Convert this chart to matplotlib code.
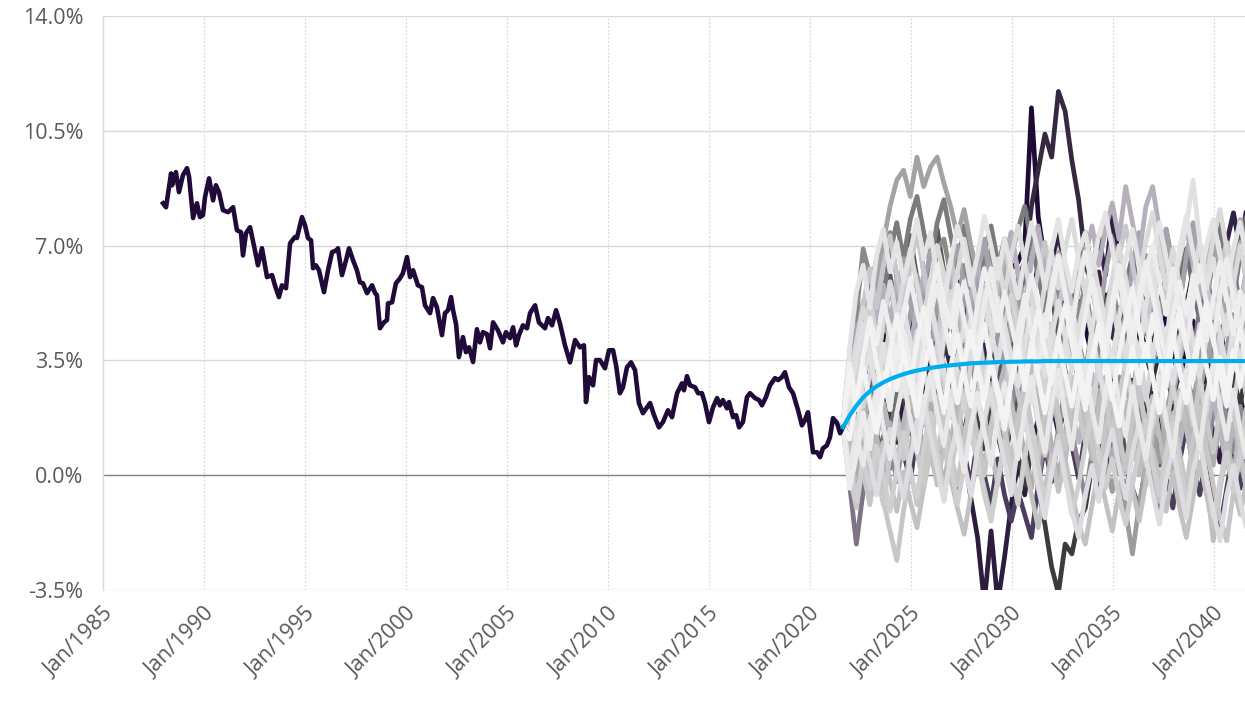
import numpy as np
import matplotlib
matplotlib.use("Agg")
import matplotlib.pyplot as plt
from matplotlib.colors import to_rgb

# ---- historical yield (decimal year, %) ----
hist_years = [
    1987.97, 1988.12, 1988.37, 1988.42, 1988.61, 1988.76, 1988.96, 1989.16, 1989.26, 1989.46,
    1989.65, 1989.80, 1989.95, 1990.05, 1990.25, 1990.45, 1990.59, 1990.74, 1990.94, 1991.19,
    1991.44, 1991.63, 1991.83, 1991.93, 1992.08, 1992.28, 1992.52, 1992.67, 1992.87, 1993.12,
    1993.37, 1993.51, 1993.71, 1993.86, 1994.06, 1994.26, 1994.50, 1994.60, 1994.85, 1995.00,
    1995.15, 1995.30, 1995.40, 1995.54, 1995.69, 1995.94, 1996.14, 1996.34, 1996.58, 1996.63,
    1996.83, 1997.03, 1997.18, 1997.38, 1997.57, 1997.72, 1997.87, 1998.07, 1998.32, 1998.47,
    1998.56, 1998.71, 1998.91, 1999.06, 1999.11, 1999.31, 1999.50, 1999.70, 1999.85, 2000.05,
    2000.20, 2000.35, 2000.59, 2000.79, 2000.94, 2001.19, 2001.34, 2001.53, 2001.78, 2001.93,
    2002.08, 2002.23, 2002.33, 2002.48, 2002.62, 2002.82, 2002.97, 2003.12, 2003.32, 2003.51,
    2003.66, 2003.81, 2004.01, 2004.16, 2004.31, 2004.55, 2004.80, 2004.95, 2005.15, 2005.30,
    2005.45, 2005.59, 2005.79, 2005.99, 2006.14, 2006.39, 2006.58, 2006.88, 2007.03, 2007.23,
    2007.43, 2007.62, 2007.87, 2008.12, 2008.37, 2008.61, 2008.81, 2008.91, 2009.06, 2009.26,
    2009.41, 2009.60, 2009.85, 2010.05, 2010.25, 2010.40, 2010.59, 2010.74, 2010.94, 2011.14,
    2011.34, 2011.53, 2011.73, 2011.93, 2012.08, 2012.28, 2012.52, 2012.72, 2012.97, 2013.17,
    2013.42, 2013.66, 2013.76, 2013.91, 2014.06, 2014.31, 2014.46, 2014.65, 2014.80, 2015.00,
    2015.20, 2015.40, 2015.54, 2015.69, 2015.89, 2015.99, 2016.19, 2016.34, 2016.49, 2016.68,
    2016.88, 2017.03, 2017.28, 2017.48, 2017.62, 2017.82, 2018.02, 2018.27, 2018.42, 2018.61,
    2018.76, 2018.96, 2019.16, 2019.41, 2019.60, 2019.75, 2019.90, 2020.15, 2020.35, 2020.50,
    2020.64, 2020.84, 2020.99, 2021.14, 2021.34, 2021.49, 2021.63,
]
hist_values = [
    8.29, 8.17, 9.20, 8.84, 9.24, 8.63, 9.15, 9.36, 9.10, 7.84,
    8.29, 7.87, 7.93, 8.48, 9.05, 8.38, 8.84, 8.63, 8.08, 8.02,
    8.17, 7.47, 7.41, 6.70, 7.38, 7.56, 6.86, 6.40, 6.92, 6.04,
    6.10, 5.79, 5.43, 5.79, 5.70, 7.07, 7.26, 7.23, 7.87, 7.62,
    7.23, 7.16, 6.31, 6.40, 6.25, 5.58, 6.25, 6.80, 6.86, 6.92,
    6.10, 6.55, 6.92, 6.55, 6.25, 5.88, 5.85, 5.55, 5.79, 5.55,
    5.49, 4.48, 4.66, 4.73, 5.24, 5.27, 5.85, 6.00, 6.16, 6.65,
    6.04, 6.25, 5.79, 5.73, 5.18, 4.94, 5.40, 5.12, 4.27, 4.94,
    5.03, 5.43, 5.03, 4.60, 3.60, 4.21, 3.75, 3.90, 3.45, 4.45,
    4.05, 4.36, 4.30, 3.87, 4.66, 4.42, 4.05, 4.36, 4.18, 4.51,
    3.96, 4.27, 4.57, 4.48, 4.94, 5.18, 4.66, 4.48, 4.79, 4.57,
    5.03, 4.63, 3.96, 3.44, 4.12, 3.90, 3.96, 2.23, 2.99, 2.74,
    3.51, 3.51, 3.26, 3.81, 3.81, 3.35, 2.50, 2.68, 3.29, 3.44,
    3.20, 2.20, 1.89, 2.07, 2.20, 1.83, 1.46, 1.62, 1.98, 1.77,
    2.50, 2.80, 2.59, 3.02, 2.74, 2.68, 2.50, 2.50, 2.20, 1.62,
    2.07, 2.35, 2.13, 2.29, 2.04, 2.23, 1.77, 1.83, 1.46, 1.62,
    2.38, 2.50, 2.35, 2.29, 2.13, 2.38, 2.74, 2.96, 2.90, 2.99,
    3.14, 2.68, 2.50, 1.98, 1.52, 1.68, 1.92, 0.70, 0.70, 0.55,
    0.82, 0.91, 1.16, 1.74, 1.59, 1.28, 1.46,
]

# ---- projection: 61 points, one every four months from mid-2021 ----
sim_start = 2021.63
sim_years = sim_start + np.arange(61) / 3.0

expected_path = [
    1.46, 1.82, 2.12, 2.37, 2.56, 2.71, 2.83, 2.93, 3.01, 3.08,
    3.14, 3.19, 3.23, 3.27, 3.30, 3.33, 3.35, 3.37, 3.39, 3.41,
    3.42, 3.43, 3.44, 3.45, 3.45, 3.46, 3.46, 3.47, 3.47, 3.47,
    3.48, 3.48, 3.48, 3.48, 3.48, 3.48, 3.48, 3.48, 3.48, 3.48,
    3.48, 3.48, 3.48, 3.48, 3.48, 3.48, 3.48, 3.48, 3.48, 3.48,
    3.48, 3.48, 3.48, 3.48, 3.48, 3.48, 3.48, 3.48, 3.48, 3.48, 3.48,
]

# simulated scenarios (%)
scenarios = [
    [1.5, 2.6, 3.7, 2.9, 4.3, 3.4, 4.6, 5.8, 4.7, 3.6, 4.9, 6.1, 4.8, 3.9, 5.2, 6.2, 5.1, 4.0, 5.4, 6.3,
     5.0, 4.1, 5.5, 4.2, 3.3, 4.7, 5.6, 4.3, 3.5, 4.8, 3.6, 2.4, 3.8, 2.7, 1.6, 2.9, 1.8, 0.7, 1.9, 0.4,
     -0.5, 0.6, -1.1, -2.4, -0.9, 0.3, 1.5, 0.4, 1.9, 2.8, 1.8, 3.2, 2.1, 3.5, 4.4, 3.3, 2.7, 3.9, 4.9, 3.6, 4.8],
    [1.5, 3.3, 4.9, 6.9, 6.1, 5.3, 6.6, 7.4, 6.0, 5.5, 6.8, 7.6, 6.2, 5.4, 6.9, 7.2, 6.1, 5.2, 6.4, 5.7,
     4.8, 6.1, 6.9, 5.6, 5.0, 4.1, 5.5, 6.4, 5.1, 4.3, 5.8, 6.5, 5.2, 4.4, 3.6, 4.9, 5.8, 4.4, 3.7, 5.1,
     5.9, 4.6, 3.8, 5.2, 5.8, 6.7, 5.4, 4.7, 6.0, 6.8, 5.5, 4.8, 6.1, 6.9, 5.7, 4.9, 6.3, 7.1, 5.8, 5.0, 6.4],
    [1.5, 0.7, 1.6, 0.9, 2.2, 1.3, 0.5, 1.9, 1.0, 2.4, 1.4, 0.7, 2.0, 1.1, 0.3, 1.4, 0.4, -0.5, 0.7, -0.7,
     -1.9, -3.9, -1.7, -3.9, -2.5, -0.9, 0.4, -0.6, 0.9, 1.7, 0.8, 2.2, 1.3, 2.7, 1.7, 3.1, 2.1, 1.4, 2.8, 1.8,
     3.2, 2.2, 1.5, 2.9, 1.9, 1.1, 2.5, 1.5, 0.6, 2.1, 1.2, 2.6, 1.6, 0.8, 2.2, 1.3, 0.4, 1.9, 1.0, 2.4, 1.4],
    [1.5, 2.9, 4.1, 5.3, 4.5, 5.9, 7.1, 8.2, 9.0, 9.3, 8.5, 9.7, 8.8, 9.4, 9.7, 8.9, 8.2, 7.3, 8.1, 7.0,
     6.2, 7.1, 5.9, 5.2, 6.1, 5.0, 4.2, 5.3, 4.3, 3.5, 4.6, 3.6, 2.8, 3.9, 4.7, 3.7, 2.9, 4.0, 4.8, 3.8,
     3.0, 4.1, 4.9, 3.9, 3.1, 2.3, 3.4, 4.2, 3.2, 2.4, 3.5, 4.3, 3.3, 2.5, 3.6, 4.4, 3.4, 2.6, 3.7, 4.5, 3.5],
    [1.5, -0.4, 0.6, 1.9, 0.8, 2.3, 3.1, 2.0, 3.5, 4.4, 3.4, 2.3, 3.8, 4.9, 5.8, 4.7, 3.7, 5.1, 5.9, 4.9,
     3.8, 5.2, 6.3, 5.1, 3.9, 3.1, 4.4, 5.5, 4.3, 3.2, 4.6, 5.8, 6.7, 5.5, 4.5, 5.9, 6.8, 5.8, 4.7, 3.6,
     5.0, 6.1, 4.9, 3.8, 5.2, 6.3, 7.0, 5.9, 4.9, 6.3, 5.0, 3.9, 5.3, 6.4, 5.2, 4.1, 5.5, 6.6, 5.4, 4.3, 5.7],
    [1.5, 2.2, 1.0, 0.2, 1.5, 0.4, -0.4, 1.0, 1.9, 0.7, -0.2, 1.3, 2.3, 1.0, -0.1, 1.4, 0.3, -0.7, 0.7, -0.3,
     1.1, 0.0, -0.9, 0.5, -0.6, -1.4, -0.5, -1.2, -1.9, -0.3, 0.9, -0.2, 1.2, 2.2, 0.9, -0.1, 1.3, 2.4, 1.2, 0.1,
     1.5, 0.3, -0.6, 0.8, 1.9, 0.7, -0.3, 1.1, -0.1, -1.0, 0.4, 1.5, 0.3, -0.6, 0.7, -0.5, -1.6, -0.4, 0.8, -0.4, 1.0],
    [1.5, 3.2, 4.4, 3.3, 4.8, 5.9, 4.8, 6.1, 4.9, 6.4, 7.3, 6.0, 5.1, 6.6, 7.5, 6.2, 5.3, 4.2, 5.6, 4.5,
     3.5, 4.9, 3.6, 2.7, 4.1, 3.0, 1.9, 3.4, 4.4, 3.1, 4.5, 5.5, 4.2, 3.2, 2.1, 3.5, 2.4, 1.3, 2.7, 1.5,
     0.5, 1.9, 0.6, -0.4, -1.0, 0.3, 1.4, 0.3, 1.7, 2.7, 1.4, 2.8, 3.8, 2.5, 3.9, 4.9, 3.6, 5.0, 6.0, 4.7, 6.1],
    [1.5, 2.4, 1.1, 2.9, 3.8, 2.4, 4.0, 3.0, 4.5, 3.2, 2.5, 3.9, 5.0, 3.6, 2.7, 4.2, 5.3, 4.2, 3.1, 4.7,
     3.4, 2.6, 4.1, 5.4, 4.3, 3.0, 4.3, 3.3, 2.2, 3.8, 4.9, 3.5, 2.4, 4.0, 5.1, 4.0, 2.9, 4.5, 5.7, 4.4,
     3.3, 4.8, 5.9, 4.5, 3.6, 5.2, 6.3, 4.9, 4.0, 5.7, 6.7, 7.6, 9.0, 7.1, 5.7, 6.6, 5.2, 4.3, 5.8, 4.5, 3.7],
    [1.5, -0.3, -2.1, -0.5, 0.9, -0.3, 1.2, 0.2, 1.6, 0.5, 2.0, 2.9, 1.6, 3.0, 4.0, 2.7, 1.8, 3.3, 4.3, 3.2,
     4.6, 3.3, 2.3, 3.8, 4.9, 3.8, 2.8, 4.2, 5.3, 4.0, 5.4, 6.3, 5.0, 3.9, 5.3, 6.4, 5.3, 4.2, 5.7, 4.4,
     3.3, 4.7, 5.8, 6.7, 5.4, 4.3, 5.7, 4.5, 3.4, 4.9, 6.0, 4.6, 3.7, 5.1, 6.2, 4.9, 3.8, 5.2, 6.3, 5.2, 4.1],
    [1.5, 2.7, 3.6, 4.7, 3.5, 4.9, 5.8, 4.6, 6.0, 4.8, 3.8, 5.2, 6.1, 4.9, 4.0, 5.4, 6.3, 5.1, 4.1, 5.5,
     6.5, 5.2, 4.2, 5.6, 6.6, 7.4, 6.2, 5.2, 6.5, 7.5, 6.3, 5.3, 6.6, 5.4, 4.4, 5.7, 6.7, 7.6, 6.4, 7.5,
     8.3, 7.2, 8.8, 7.7, 6.7, 8.2, 8.8, 7.5, 6.5, 5.4, 6.7, 7.6, 6.4, 5.4, 6.7, 7.7, 6.5, 5.5, 6.8, 7.8, 6.6],
    [1.5, 0.5, 1.4, 0.1, -0.9, 0.4, -0.8, -1.7, -2.6, -1.1, 0.2, -0.9, 0.5, 1.6, 0.5, 1.9, 0.7, -0.3, 1.1, 2.2,
     1.0, 0.0, 1.4, 2.5, 1.4, 0.4, 1.8, 2.8, 1.5, 0.6, 2.0, 3.1, 1.9, 0.8, 2.3, 3.3, 2.0, 1.0, -0.1, 1.4,
     2.5, 1.2, 0.2, 1.7, 2.7, 1.4, 0.3, -0.8, 0.7, 1.8, 0.7, -0.4, 1.1, 2.1, 0.8, -0.3, -1.3, -2.0, -0.5, 0.8, -0.5],
    [1.5, 1.9, 3.2, 4.1, 5.4, 4.2, 3.2, 4.6, 3.4, 2.4, 3.8, 2.6, 1.6, 3.0, 4.0, 2.8, 1.8, 3.2, 2.0, 3.4,
     4.4, 3.2, 2.2, 3.6, 4.6, 5.5, 4.3, 3.3, 4.7, 3.5, 2.5, 3.9, 2.7, 4.1, 5.1, 3.9, 2.9, 1.9, 3.3, 2.1,
     3.5, 4.5, 3.3, 2.3, 3.7, 2.5, 1.5, 2.9, 3.9, 2.7, 1.7, 3.1, 4.1, 2.9, 1.9, 3.3, 4.3, 3.1, 2.1, 3.5, 2.3],
    [1.5, 0.9, 2.1, 3.0, 2.0, 3.4, 2.2, 1.2, 2.6, 3.7, 2.5, 3.9, 4.8, 3.6, 2.6, 4.0, 5.0, 3.8, 2.7, 4.1,
     5.2, 6.2, 4.9, 6.3, 7.2, 5.9, 4.9, 6.3, 7.3, 6.1, 5.1, 4.1, 5.5, 6.4, 5.2, 4.1, 3.1, 4.5, 5.5, 4.3,
     3.3, 4.7, 3.4, 2.4, 3.8, 4.8, 3.5, 4.8, 5.8, 4.6, 5.9, 6.9, 5.7, 4.7, 6.0, 7.0, 7.9, 6.7, 5.7, 7.0, 8.0],
    [1.5, 1.1, 2.2, 1.1, 2.5, 3.4, 2.2, 1.3, 2.7, 3.6, 2.4, 1.4, 2.8, 3.8, 2.6, 4.0, 4.9, 3.7, 2.7, 4.1,
     5.1, 3.9, 2.9, 4.3, 5.3, 4.1, 3.1, 4.5, 5.4, 6.4, 5.2, 6.5, 7.4, 6.2, 5.2, 6.5, 7.4, 6.2, 7.3, 6.1,
     7.9, 6.7, 5.7, 4.7, 6.0, 4.8, 3.8, 5.1, 6.1, 4.9, 3.9, 5.2, 6.2, 5.0, 6.3, 7.2, 6.0, 7.1, 8.0, 6.9, 8.2],
    [1.5, 2.3, 3.4, 2.8, 3.9, 4.6, 3.7, 4.9, 4.1, 3.3, 4.5, 5.2, 4.4, 3.6, 4.8, 5.6, 4.7, 5.9, 5.0, 4.3,
     5.5, 6.2, 5.1, 4.4, 5.8, 6.3, 6.5, 7.0, 11.2, 7.9, 6.5, 5.4, 6.3, 4.9, 4.2, 5.3, 4.5, 3.6, 4.7, 5.5,
     4.4, 3.7, 4.9, 5.6, 4.6, 3.8, 3.1, 4.2, 4.9, 3.7, 2.9, 3.9, 4.7, 3.5, 2.8, 3.8, 4.5, 3.3, 2.6, 3.7, 4.3],
    [1.5, 1.2, 0.0, 1.4, 2.5, 1.2, 0.2, 1.6, 0.3, -0.6, 0.8, 1.9, 0.7, 2.1, 3.1, 1.9, 0.9, 2.3, 3.3, 2.1,
     1.1, 0.1, 1.5, 2.6, 1.4, 0.4, 1.8, 0.6, -0.4, 1.0, 2.1, 0.9, -0.1, 1.3, 2.4, 3.4, 2.2, 1.2, 2.6, 1.4,
     0.4, 1.8, 2.9, 1.7, 0.7, -0.3, 1.1, 2.2, 1.0, 0.0, 1.4, 2.5, 3.5, 2.3, 1.3, 0.3, 1.7, 0.5, -0.5, 0.9, 2.0],
    [1.5, 3.4, 2.2, 3.6, 4.7, 3.4, 2.4, 3.8, 4.9, 3.7, 2.7, 4.1, 5.1, 3.9, 2.9, 1.9, 3.3, 4.3, 3.1, 2.1,
     3.5, 4.6, 3.4, 2.4, 1.4, 2.8, 3.8, 2.6, 4.0, 5.0, 3.8, 2.8, 4.2, 5.2, 4.0, 3.0, 2.0, 3.4, 4.5, 3.3,
     2.3, 3.7, 4.7, 5.7, 4.5, 3.5, 4.9, 3.7, 2.7, 4.1, 5.1, 3.9, 2.9, 4.3, 5.3, 4.1, 3.1, 2.1, 3.5, 4.5, 3.3],
    [1.5, 0.8, 1.9, 2.7, 2.0, 3.2, 2.5, 1.7, 2.9, 3.6, 2.8, 3.9, 4.6, 3.7, 4.9, 4.1, 3.3, 4.5, 5.3, 4.4,
     3.6, 4.8, 5.6, 4.7, 5.9, 5.1, 6.0, 6.5, 8.2, 9.3, 10.4, 9.7, 11.7, 11.1, 9.6, 8.4, 6.6, 5.5, 6.2, 5.0,
     4.2, 5.1, 4.4, 3.6, 4.5, 3.7, 2.9, 3.8, 3.1, 2.3, 3.2, 2.5, 3.4, 4.2, 3.5, 2.7, 3.6, 2.9, 3.8, 4.6, 3.9],
    [1.5, 2.8, 4.1, 5.2, 6.3, 5.1, 6.4, 7.3, 6.1, 5.1, 6.4, 7.4, 6.2, 5.2, 4.2, 5.6, 6.6, 5.4, 4.4, 3.4,
     4.8, 5.8, 4.6, 6.0, 7.0, 5.8, 4.8, 3.8, 5.2, 6.2, 7.1, 5.9, 4.9, 6.3, 5.1, 4.1, 5.5, 6.5, 5.3, 4.3,
     5.7, 6.7, 7.6, 6.4, 5.4, 4.4, 5.8, 6.8, 5.6, 4.6, 3.6, 5.0, 6.0, 7.0, 5.8, 4.8, 6.2, 7.1, 5.9, 4.9, 6.3],
    [1.5, 0.4, -0.6, 0.7, 1.8, 0.6, -0.4, 1.0, -0.2, 1.2, 2.2, 1.0, 0.0, 1.4, 2.4, 3.4, 2.2, 1.2, 2.6, 3.6,
     2.4, 1.4, 2.8, 1.6, 0.6, 2.0, 3.0, 1.8, 0.8, -0.2, 1.2, 0.0, 1.4, 2.5, 1.3, 0.3, -0.7, 0.7, 1.8, 0.6,
     2.0, 3.0, 1.8, 0.8, 2.2, 1.0, 0.0, -1.0, 0.4, 1.5, 0.3, -0.7, 0.7, 1.7, 0.5, 1.9, 2.9, 1.7, 0.7, 2.1, 0.9],
    [1.5, 2.6, 1.8, 3.1, 2.2, 3.5, 2.6, 1.8, 3.2, 2.3, 1.5, 2.8, 1.9, 3.3, 2.4, 1.6, 2.9, 2.0, 1.2, 2.5,
     1.6, 0.8, 2.1, 1.2, 0.4, 1.6, 0.6, -0.3, 0.8, -0.4, -1.5, -2.8, -3.6, -2.1, -2.4, -1.4, -1.0, 0.3, -0.5, 0.9,
     1.8, 0.9, 2.2, 1.3, 2.7, 1.8, 3.1, 2.2, 1.4, 2.7, 1.8, 3.1, 2.2, 1.4, 2.7, 3.5, 2.5, 1.7, 3.0, 2.1, 3.4],
    [1.5, 3.7, 5.3, 4.3, 5.6, 6.6, 5.5, 6.8, 7.7, 6.6, 7.8, 8.5, 7.4, 6.4, 7.7, 8.4, 7.3, 6.3, 7.6, 6.5,
     5.5, 6.8, 7.6, 6.5, 5.4, 6.7, 7.5, 8.2, 7.1, 6.1, 5.1, 6.4, 5.3, 4.3, 5.6, 6.5, 5.4, 4.4, 3.4, 4.7,
     5.6, 4.5, 3.5, 4.8, 5.7, 6.6, 5.5, 6.6, 7.5, 6.4, 5.3, 6.6, 7.5, 6.3, 5.3, 6.6, 7.6, 6.4, 5.4, 6.7, 7.6],
    [1.5, -0.2, 0.7, 1.5, 0.4, -0.6, 0.6, 1.4, 0.3, -0.7, 0.5, 1.6, 2.4, 1.2, 0.2, -0.8, 0.6, 1.5, 0.4, -0.6,
     0.8, 1.7, 2.6, 1.4, 0.4, -0.6, 0.9, 1.8, 0.7, -0.4, -1.3, 0.1, 1.0, -0.1, -1.1, -1.9, -0.6, 0.3, -0.8, 0.5,
     1.4, 0.3, -0.7, 0.7, 1.6, 0.5, -0.5, -1.5, -0.1, 0.8, -0.3, -1.3, 0.1, 1.0, -0.1, -1.1, -2.0, -0.6, 0.3, -0.8, -1.7],
    [1.5, 1.7, 0.6, 2.0, 1.1, 2.6, 1.4, 0.5, 1.9, 0.8, 2.3, 3.2, 2.0, 0.9, 2.4, 1.3, 0.2, 1.7, 2.6, 1.4,
     0.3, 1.8, 0.8, -0.3, 1.1, 2.1, 1.0, 2.5, 3.4, 2.2, 1.1, 2.6, 1.5, 0.4, 1.9, 2.8, 1.6, 0.5, 2.0, 3.0,
     1.8, 0.7, 2.2, 1.1, 0.0, 1.5, 2.4, 1.2, 0.1, 1.6, 2.6, 1.4, 0.3, 1.8, -0.2, -2.0, -0.4, 1.1, 0.0, 1.5, 0.4],
    [1.5, 3.0, 4.6, 3.5, 5.2, 6.3, 5.0, 4.0, 5.6, 6.6, 5.3, 4.2, 5.8, 6.8, 5.5, 4.5, 6.1, 7.0, 5.7, 4.7,
     6.2, 7.2, 5.9, 4.9, 6.4, 7.4, 6.1, 5.0, 6.6, 7.6, 6.3, 5.2, 6.8, 5.5, 4.5, 6.0, 7.0, 5.7, 4.6, 6.2,
     7.2, 5.9, 4.8, 6.4, 7.4, 6.0, 5.0, 6.5, 7.5, 6.2, 5.1, 6.7, 7.7, 6.3, 5.3, 6.9, 5.6, 4.6, 6.1, 7.1, 5.8],
    [1.5, 0.1, 1.3, 0.3, 1.7, 2.6, 1.5, 0.5, 1.9, 2.9, 1.7, 0.7, 2.1, 3.1, 1.9, 0.9, 2.3, 1.1, 0.1, 1.5,
     2.5, 1.3, 0.3, 1.8, 2.8, 1.5, 0.5, 2.0, 3.0, 1.7, 0.7, 2.2, 3.2, 1.9, 0.8, 2.4, 3.4, 2.0, 1.0, 2.6,
     3.6, 2.2, 1.2, 2.7, 1.5, 0.5, 2.0, 3.0, 1.7, 0.6, 2.2, 3.2, 1.8, 0.8, 2.4, 3.4, 2.1, 1.1, 2.6, 1.4, 0.4],
    [1.5, 0.3, -0.8, 0.5, -0.4, 0.9, 0.0, -1.1, 0.2, 1.3, 0.1, -0.7, 0.8, 1.9, 0.6, -0.5, 0.4, -0.9, 0.3, 1.4,
     0.5, -0.6, -1.4, -0.2, 1.0, 0.1, -0.9, 0.6, 1.5, 0.3, -0.8, 0.2, 1.2, 0.0, -1.2, -0.3, 0.9, 1.8, 0.7, -0.4,
     0.5, -0.7, -1.5, -0.3, 0.8, 1.7, 0.4, -0.6, 0.6, 1.6, 0.3, -0.9, 0.2, 1.1, -0.1, -1.3, -0.2, 0.7, -0.5, 0.6, 1.5],
    [1.5, 3.9, 5.6, 6.4, 5.1, 6.7, 7.5, 6.2, 7.1, 5.9, 6.8, 7.8, 6.6, 7.4, 6.1, 5.3, 6.5, 7.6, 6.9, 5.8,
     6.7, 7.9, 7.0, 6.0, 7.2, 6.3, 5.4, 6.6, 7.7, 6.8, 5.7, 6.9, 7.8, 6.5, 5.6, 6.8, 7.4, 6.2, 7.3, 8.0,
     6.9, 5.8, 6.6, 7.5, 6.4, 5.5, 6.7, 7.7, 6.6, 5.7, 6.9, 7.9, 6.8, 5.9, 7.0, 7.8, 6.7, 5.8, 6.9, 7.7, 6.6],
    [1.5, 2.0, 3.3, 2.1, 3.0, 4.2, 3.1, 2.0, 3.5, 4.6, 3.4, 4.4, 3.2, 2.3, 3.6, 4.7, 5.6, 4.3, 3.4, 4.8,
     3.7, 2.6, 3.9, 5.0, 4.0, 2.8, 3.7, 4.9, 5.8, 4.5, 3.4, 4.6, 3.5, 2.4, 3.3, 4.5, 5.4, 4.2, 3.0, 4.3,
     5.3, 4.1, 3.2, 4.5, 3.4, 2.3, 3.6, 4.8, 3.7, 4.9, 5.8, 4.6, 3.5, 4.6, 3.3, 2.5, 3.8, 4.9, 3.9, 2.8, 4.0],
    [1.5, 0.6, -0.6, 0.3, 1.2, 0.2, 1.0, -0.2, -1.1, 0.1, -0.8, -1.6, -0.4, 0.7, -0.3, 0.9, -0.1, -1.0, -1.8, -0.6,
     0.5, -0.4, -1.3, -0.1, 1.0, 0.2, -0.8, 0.4, -0.6, -1.6, -0.4, 0.6, -0.5, 0.5, -0.5, -1.5, -2.1, -0.9, 0.2, -0.8,
     -1.7, -0.5, 0.6, -0.4, -1.4, -0.2, 0.8, -0.1, -1.1, 0.1, -1.0, -1.9, -0.7, 0.4, -0.6, -1.6, -0.4, 0.7, -0.3, -1.2, -0.1],
    [1.5, 2.8, 2.0, 3.6, 4.8, 4.0, 5.3, 4.4, 3.5, 4.9, 6.0, 5.0, 4.1, 5.4, 6.4, 5.3, 4.5, 5.8, 4.7, 3.9,
     5.2, 6.3, 5.4, 4.4, 5.6, 4.6, 3.7, 5.1, 6.1, 5.2, 4.2, 5.5, 6.6, 5.6, 4.5, 3.6, 4.9, 6.0, 5.0, 4.0,
     5.3, 6.4, 5.4, 4.3, 5.5, 6.5, 5.5, 4.4, 3.5, 4.8, 5.9, 4.9, 6.1, 5.2, 4.1, 5.4, 6.5, 5.4, 4.3, 5.6, 4.6],
    [1.5, 0.6, 1.8, 0.9, -0.2, 1.1, 2.2, 1.3, 0.3, 1.6, 2.6, 1.5, 0.4, 1.7, 0.8, -0.3, 1.0, 2.0, 1.1, 2.3,
     1.2, 0.2, 1.5, 2.5, 3.3, 2.2, 1.1, 2.4, 1.4, 0.4, 1.7, 0.6, -0.4, 0.9, 2.0, 1.0, 2.2, 3.1, 2.0, 0.9,
     2.1, 1.1, 0.1, 1.4, 2.5, 1.5, 0.5, -0.5, 0.8, 1.9, 0.9, 2.1, 1.0, 0.0, 1.3, 2.4, 1.3, 0.3, 1.6, 0.5, -0.5],
    [1.5, 3.1, 4.0, 5.1, 4.2, 3.3, 4.7, 5.9, 4.8, 5.9, 6.9, 5.8, 4.8, 6.0, 7.0, 6.1, 5.0, 6.2, 7.2, 6.1,
     5.1, 4.2, 5.5, 6.6, 5.5, 6.7, 7.6, 6.5, 5.4, 4.6, 5.8, 6.8, 5.7, 6.9, 7.8, 6.6, 5.5, 6.7, 5.6, 4.7,
     6.0, 7.0, 6.0, 4.9, 6.1, 7.1, 8.0, 6.8, 5.7, 6.9, 5.8, 4.8, 6.0, 7.1, 6.0, 7.2, 8.1, 6.9, 5.8, 7.0, 6.0],
    [1.5, 1.1, 2.4, 3.3, 2.2, 1.3, 2.6, 3.7, 2.6, 3.8, 2.9, 1.8, 3.1, 4.1, 3.0, 2.0, 3.3, 2.2, 3.4, 4.4,
     3.3, 2.3, 3.5, 2.6, 1.6, 2.9, 3.9, 2.8, 4.0, 3.0, 1.9, 3.1, 4.2, 3.1, 2.1, 3.4, 2.4, 3.6, 4.6, 3.5,
     2.5, 1.5, 2.8, 3.9, 2.8, 4.0, 3.0, 1.9, 3.2, 4.3, 3.2, 2.2, 3.4, 4.4, 3.3, 2.3, 3.6, 2.6, 3.8, 2.7, 3.9],
    [1.5, 0.0, -1.0, 0.4, 1.3, 0.2, -0.9, 0.6, 1.6, 0.5, 1.8, 0.7, -0.3, 1.0, 2.1, 1.1, 0.0, 1.3, 2.3, 1.2,
     2.5, 3.4, 2.3, 1.3, 2.6, 3.6, 2.5, 1.4, 2.7, 1.6, 0.6, 1.9, 2.9, 1.8, 3.0, 2.0, 1.0, 2.3, 3.3, 2.2,
     1.2, 2.4, 3.4, 2.3, 1.3, 0.3, 1.5, 2.6, 1.5, 2.7, 3.6, 2.5, 1.5, 2.8, 1.7, 0.7, 2.0, 3.0, 1.9, 0.9, 2.2],
    [1.5, 2.5, 3.5, 4.6, 3.6, 2.6, 3.9, 3.0, 4.2, 5.1, 4.1, 3.0, 4.3, 5.3, 4.2, 3.2, 2.2, 3.5, 4.6, 3.5,
     4.7, 5.6, 4.5, 3.4, 4.6, 3.6, 2.7, 4.0, 5.1, 4.0, 3.0, 4.2, 5.3, 4.2, 3.2, 4.4, 5.4, 4.3, 3.2, 2.3,
     3.6, 4.7, 3.6, 4.8, 5.8, 4.7, 3.6, 4.8, 3.8, 2.8, 4.1, 5.2, 4.1, 3.0, 4.2, 5.3, 4.3, 3.2, 4.5, 3.4, 4.6],
]
scenario_colors = [
    "#9c9c9c", "#8a8a8a", "#2c1c3e", "#a3a3a3", "#ececec", "#4b3d5c",
    "#575757", "#e1e1e1", "#7e7486", "#b6b0bc", "#c6c6c6", "#d3d3d3",
    "#6f6f6f", "#302043", "#1f0c36", "#afafaf", "#f2f2f2", "#372841",
    "#cac6ce", "#8f8895", "#3b3b3b", "#7b7b7b", "#dedbe1", "#bdbdbd",
    "#a7a1ad", "#e8e8e8", "#cfcfcf", "#e4e4e4", "#d6d3da", "#c2c2c2",
    "#eeeeee", "#bab4bf", "#dadada", "#f4f4f4", "#c9c9c9", "#e0dde3",
]

y_ticks = [-3.5, 0.0, 3.5, 7.0, 10.5, 14.0]
x_tick_years = [1985, 1990, 1995, 2000, 2005, 2010, 2015, 2020, 2025, 2030, 2035, 2040]

HIST_COLOR = "#1f0a3a"
MEAN_COLOR = "#00aeef"
TEXT_COLOR = "#595959"
GRID_COLOR = "#d9d9d9"

plt.rcParams["font.family"] = ["Open Sans", "DejaVu Sans"]

fig = plt.figure(figsize=(12.45, 7.02), dpi=100)
ax = fig.add_axes([103 / 1245, 1 - 590 / 702, 1 - 103 / 1245, (590 - 16) / 702])

ax.set_xlim(1985, 1985 + (1245 - 103) / 20.2)
ax.set_ylim(-3.5, 14.0)

# grid
for yv in y_ticks:
    if yv == 0.0:
        ax.axhline(yv, color="#808080", lw=1.0, zorder=1)
    else:
        ax.axhline(yv, color=GRID_COLOR, lw=1.0, zorder=0)
for xv in x_tick_years[1:]:
    ax.axvline(xv, color=GRID_COLOR, lw=0.9, ls=(0, (1.5, 1.5)), zorder=0)

# scenarios: darker paths underneath, lighter ones on top
def lightness(c):
    r, g, b = to_rgb(c)
    return 0.3 * r + 0.59 * g + 0.11 * b

order = sorted(range(len(scenarios)), key=lambda i: lightness(scenario_colors[i]))
for i in order:
    ax.plot(sim_years, scenarios[i], color=scenario_colors[i], lw=3.4,
            solid_joinstyle="round", solid_capstyle="round", zorder=2)

ax.plot(hist_years, hist_values, color=HIST_COLOR, lw=3.3,
        solid_joinstyle="round", zorder=3)
ax.plot(sim_years, expected_path, color=MEAN_COLOR, lw=3.0, zorder=4)

for side in ("top", "right", "bottom"):
    ax.spines[side].set_visible(False)
ax.spines["left"].set_color(GRID_COLOR)
ax.spines["left"].set_linewidth(1.0)

ax.set_yticks(y_ticks)
ax.set_yticklabels([f"{v:.1f}%" for v in y_ticks])
ax.set_xticks(x_tick_years)
ax.set_xticklabels([f"Jan/{y}" for y in x_tick_years], rotation=45,
                   ha="right", rotation_mode="anchor")
ax.tick_params(axis="both", length=0, labelsize=15.5, colors=TEXT_COLOR)
ax.tick_params(axis="y", pad=14)
ax.tick_params(axis="x", pad=10)

fig.savefig("out.png", dpi=100, facecolor="white")
